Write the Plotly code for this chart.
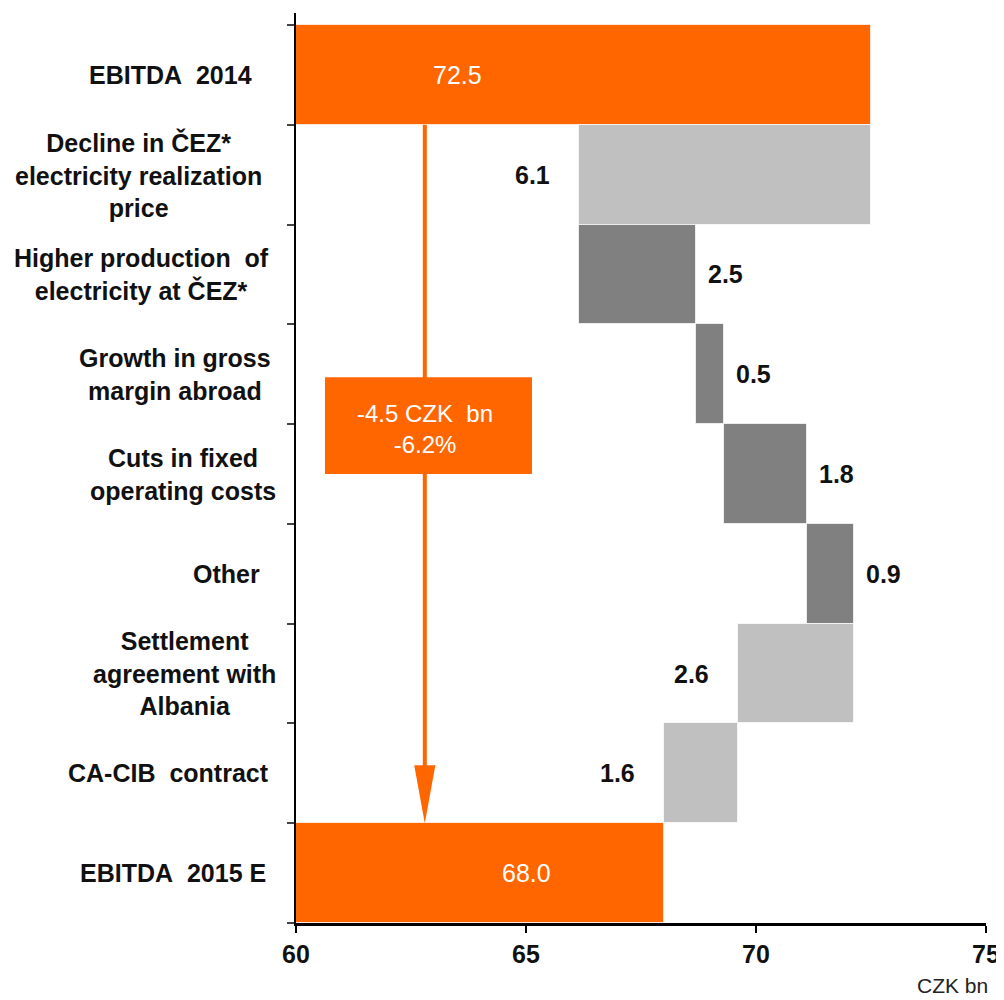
import plotly.graph_objects as go

# ---------------- data ----------------
categories = [
    "EBITDA\u00a0\u00a02014",
    "Decline in ČEZ*<br>electricity realization<br>price",
    "Higher production\u00a0\u00a0of<br>electricity at ČEZ*",
    "Growth in gross<br>margin abroad",
    "Cuts in fixed<br>operating costs",
    "Other",
    "Settlement<br>agreement with<br>Albania",
    "CA-CIB\u00a0\u00a0contract",
    "EBITDA\u00a0\u00a02015\u00a0E",
]
kinds = ["total", "decrease", "increase", "increase", "increase",
         "increase", "decrease", "decrease", "total"]
value_labels = ["72.5", "6.1", "2.5", "0.5", "1.8", "0.9", "2.6", "1.6", "68.0"]
bar_from = [60.0, 72.5, 66.15, 68.7, 69.3, 71.1, 72.13, 69.6, 60.0]
bar_to = [72.5, 66.15, 68.7, 69.3, 71.1, 72.13, 69.6, 68.0, 68.0]
x_ticks = [60, 65, 70, 75]
change_text = ["-4.5 CZK\u00a0\u00a0bn", "-6.2%"]
unit_label = "CZK bn"

# ---------------- style ----------------
ORANGE = "#FF6600"
LIGHT = "#C0C0C0"
DARK = "#808080"
TXT = "#111111"
FONT = "Liberation Sans, Arial, sans-serif"
kind_color = {"total": ORANGE, "decrease": LIGHT, "increase": DARK}

OFF = 8  # default page body margin
W, H = 996, 992
ML, MR, MT, MB = 288, 18, 5, 77
PW = W - ML - MR
PH = H - MT - MB
row_px = 898 / 9.0
y_top = 8.5 - PH / row_px

n = len(categories)
ys = list(range(n))
bases = [min(a, b) for a, b in zip(bar_from, bar_to)]
lengths = [abs(b - a) for a, b in zip(bar_from, bar_to)]
colors = [kind_color[k] for k in kinds]

fig = go.Figure()
fig.add_trace(go.Bar(
    orientation="h",
    y=ys, x=lengths, base=bases, width=1.0,
    marker=dict(color=colors, line=dict(color="rgba(255,255,255,0.7)", width=1)),
    hoverinfo="skip", showlegend=False,
))

annotations = []
# category labels (centers in window pixels, per row)
label_center_px = [170, 138, 141, 175, 183, 226, 184, 168, 173]
for i, (cat, cpx) in enumerate(zip(categories, label_center_px)):
    annotations.append(dict(
        text=cat, xref="paper", yref="y", x=(cpx - OFF - ML) / PW, y=i,
        xanchor="center", yanchor="middle", align="center", showarrow=False,
        font=dict(family=FONT, size=25, color=TXT, weight="bold"),
    ))

# value labels
total_label_x = {0: 63.5, 8: 65.0}
for i, (k, lab) in enumerate(zip(kinds, value_labels)):
    if k == "total":
        annotations.append(dict(
            text=lab, x=total_label_x[i], y=i, xref="x", yref="y",
            xanchor="center", yanchor="middle", showarrow=False,
            font=dict(family=FONT, size=25, color="white"),
        ))
    elif k == "decrease":
        annotations.append(dict(
            text=lab, x=min(bar_from[i], bar_to[i]), y=i, xref="x", yref="y",
            xanchor="right", yanchor="middle", xshift=-27, showarrow=False,
            font=dict(family=FONT, size=25, color=TXT, weight="bold"),
        ))
    else:
        annotations.append(dict(
            text=lab, x=max(bar_from[i], bar_to[i]), y=i, xref="x", yref="y",
            xanchor="left", yanchor="middle", xshift=10, showarrow=False,
            font=dict(family=FONT, size=25, color=TXT, weight="bold"),
        ))

# change box text
arrow_x = 62.8
annotations.append(dict(
    text="<br>".join(change_text), x=arrow_x, y=3.55, xref="x", yref="y",
    xanchor="center", yanchor="middle", align="center", showarrow=False,
    font=dict(family=FONT, size=24, color="white"),
))
# unit label
annotations.append(dict(
    text=unit_label, xref="paper", yref="paper", x=(990 - OFF - ML) / PW,
    y=-(985 - OFF - (H - MB)) / PH, xanchor="right", yanchor="middle", showarrow=False,
    font=dict(family=FONT, size=21, color="#222222"),
))

shapes = [
    dict(type="line", xref="x", yref="y", x0=arrow_x, x1=arrow_x, y0=0.5, y1=6.95,
         line=dict(color=ORANGE, width=4), layer="above"),
    dict(type="path", xref="x", yref="y",
         path=f"M {arrow_x-0.23},6.92 L {arrow_x+0.23},6.92 L {arrow_x},7.5 Z",
         fillcolor=ORANGE, line=dict(width=0), layer="above"),
    dict(type="rect", xref="x", yref="y", x0=60.63, x1=65.13, y0=3.03, y1=4.0,
         fillcolor=ORANGE, line=dict(width=0), layer="above"),
]

fig.update_layout(
    width=W, height=H,
    margin=dict(l=ML, r=MR, t=MT, b=MB, pad=0, autoexpand=False),
    paper_bgcolor="white", plot_bgcolor="white",
    bargap=0,
    annotations=annotations, shapes=shapes,
    xaxis=dict(
        range=[60, 75], tickvals=x_ticks, ticktext=[str(v) for v in x_ticks],
        showgrid=False, zeroline=False, showline=True, linecolor="black", linewidth=3,
        ticks="outside", ticklen=7, tickwidth=2, tickcolor="black",
        ticklabelstandoff=0, automargin=False,
        tickfont=dict(family=FONT, size=25, color=TXT, weight="bold"),
        fixedrange=True,
    ),
    yaxis=dict(
        range=[8.5, y_top], tickvals=[i - 0.5 for i in range(n + 1)],
        showticklabels=False, showgrid=False, zeroline=False,
        showline=True, linecolor="black", linewidth=2,
        ticks="outside", ticklen=7, tickwidth=2, tickcolor="#444444",
        automargin=False, fixedrange=True,
    ),
)

fig.write_html("out.html")
